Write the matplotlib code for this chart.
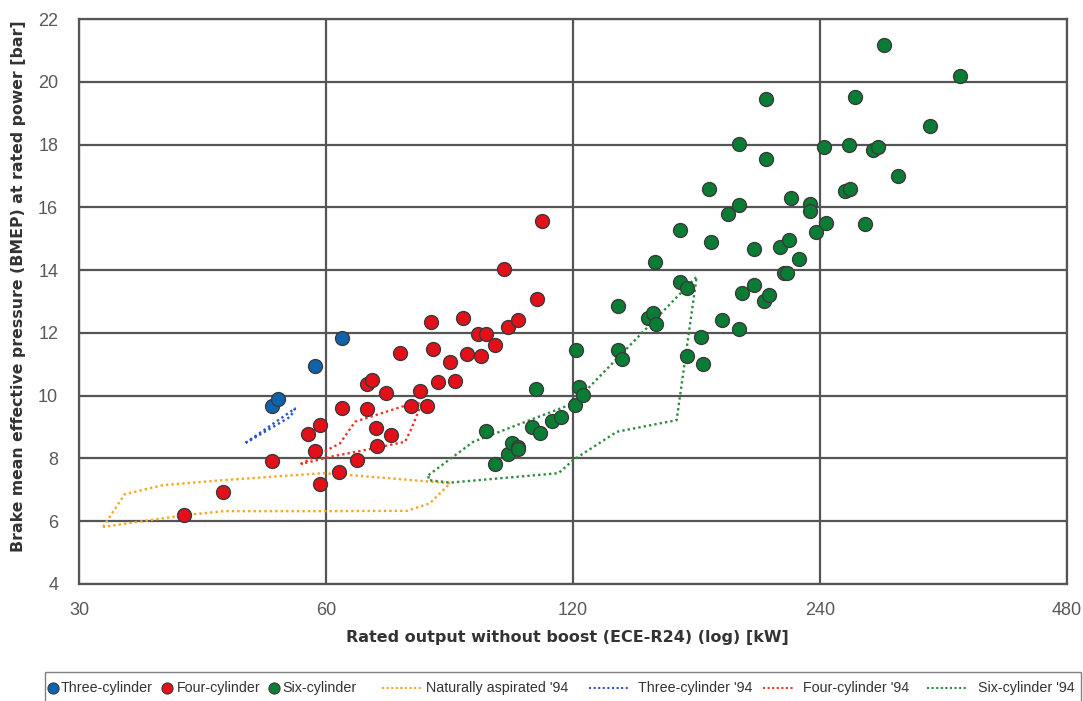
import numpy as np
import matplotlib
matplotlib.use('Agg')
from matplotlib import pyplot as plt
from matplotlib.lines import Line2D
from matplotlib.patches import Rectangle
from matplotlib.ticker import FixedLocator, NullLocator

# engine data: rated output [kW] vs BMEP at rated power [bar]
three_kw = [51.5, 52.5, 58.1, 62.8]
three_bmep = [9.68, 9.90, 10.95, 11.85]

four_kw = [40.3, 44.9, 51.5, 57.1, 58.1, 59.0, 59.0, 62.3, 62.8, 65.5,
           67.4, 67.4, 68.3, 69.1, 69.2, 71.1, 72.0, 73.9, 76.1, 78.1,
           79.6, 80.5, 81.1, 82.1, 85.0, 86.1, 88.1, 89.1, 92.0, 94.1,
           92.6, 96.3, 99.0, 100.0, 102.9, 108.4, 110.1]
four_bmep = [6.20, 6.92, 7.92, 8.77, 8.25, 9.05, 7.18, 7.58, 9.61, 7.96,
             9.56, 10.36, 10.49, 8.98, 8.40, 10.09, 8.75, 11.35, 9.67, 10.15,
             9.67, 12.35, 11.48, 10.43, 11.06, 10.46, 12.48, 11.32, 11.96, 11.96,
             11.26, 11.63, 14.02, 12.18, 12.41, 13.09, 15.57]

six_kw = [94.1, 96.4, 100.1, 101.2, 102.9, 102.9, 107.0, 108.1, 109.4, 113.1,
          116.0, 120.8, 121.1, 121.9, 123.4, 136.0, 136.0, 137.6, 148.1, 150.1,
          151.5, 150.9, 162.0, 162.0, 165.4, 165.3, 171.9, 173.0, 176.0, 177.0,
          182.3, 185.6, 191.2, 191.0, 191.0, 192.7, 199.3, 199.3, 205.1, 208.2,
          206.1, 206.4, 214.3, 219.8, 216.7, 219.0, 221.0, 226.1, 233.6, 233.6,
          237.3, 244.1, 242.9, 257.6, 261.1, 260.6, 265.0, 272.1, 278.3, 282.4,
          286.9, 299.0, 327.1, 355.2]
six_bmep = [8.89, 7.83, 8.13, 8.50, 8.37, 8.29, 9.01, 10.20, 8.80, 9.19,
            9.33, 9.70, 11.44, 10.28, 10.02, 12.85, 11.45, 11.16, 12.47, 12.64,
            12.28, 14.26, 15.28, 13.63, 13.42, 11.27, 11.88, 11.01, 16.60, 14.88,
            12.42, 15.80, 12.13, 18.01, 16.06, 13.28, 14.67, 13.54, 13.01, 13.20,
            19.44, 17.54, 14.75, 14.95, 13.90, 13.91, 16.29, 14.35, 16.12, 15.89,
            15.21, 15.50, 17.91, 16.52, 16.57, 17.98, 19.53, 15.46, 17.84, 17.91,
            21.16, 17.00, 18.59, 20.18]

# 1994 envelopes (closed outlines)
na94_kw = [32.1, 34.1, 38.0, 45.0, 59.5, 64.2, 85.0, 80.3, 75.3, 59.5, 45.0, 40.6, 32.1]
na94_bmep = [5.82, 6.86, 7.15, 7.31, 7.53, 7.47, 7.21, 6.57, 6.33, 6.32, 6.32, 6.20, 5.82]

three94_kw = [47.9, 55.0, 54.3, 48.3, 47.9]
three94_bmep = [8.50, 9.59, 9.33, 8.55, 8.50]

four94_kw = [55.9, 62.4, 65.1, 75.3, 78.5, 76.3, 74.9, 68.5, 60.7, 55.9]
four94_bmep = [7.82, 8.48, 9.17, 9.70, 9.77, 8.96, 8.53, 8.32, 8.05, 7.82]

six94_kw = [80.0, 90.7, 120.1, 169.8, 160.5, 135.7, 120.1, 115.2, 85.0, 80.0, 80.0]
six94_bmep = [7.47, 8.53, 9.75, 13.79, 9.22, 8.85, 7.95, 7.53, 7.23, 7.31, 7.47]

x_ticks = [30, 60, 120, 240, 480]
y_ticks = [4, 6, 8, 10, 12, 14, 16, 18, 20, 22]

labels = ['Three-cylinder', 'Four-cylinder', 'Six-cylinder', "Naturally aspirated '94",
          "Three-cylinder '94", "Four-cylinder '94", "Six-cylinder '94"]

c_blue = '#0b64ad'
c_red = '#e3101a'
c_green = '#0a7d34'
c_na = '#f6a623'
c_b94 = '#2a56c6'
c_r94 = '#ee3524'
c_g94 = '#2f8a3e'

plt.rcParams['font.family'] = ['Liberation Sans', 'DejaVu Sans']

W, H = 1083, 701
fig = plt.figure(figsize=(W / 100, H / 100), dpi=100)
ax = fig.add_axes([79/W, 1 - 584/H, (1067 - 79)/W, (584 - 19)/H])

ax.set_xscale('log', base=2)
ax.set_xlim(30, 480)
ax.set_ylim(4, 22)
ax.xaxis.set_major_locator(FixedLocator(x_ticks))
ax.xaxis.set_minor_locator(NullLocator())
ax.set_xticks(x_ticks)
ax.set_xticklabels([str(t) for t in x_ticks])
ax.set_yticks(y_ticks)
ax.grid(True, color='#555555', linewidth=1.6)
ax.set_axisbelow(True)
for s in ax.spines.values():
    s.set_color('#555555')
    s.set_linewidth(1.6)
ax.tick_params(length=0, labelsize=13, labelcolor='#595959')
ax.tick_params(axis='x', pad=13)
ax.tick_params(axis='y', pad=15)

ls_dot = (0, (1, 1.3))
ax.plot(na94_kw, na94_bmep, color=c_na, lw=1.7, ls=ls_dot, zorder=2)
ax.plot(three94_kw, three94_bmep, color=c_b94, lw=1.7, ls=ls_dot, zorder=2)
ax.plot(four94_kw, four94_bmep, color=c_r94, lw=1.7, ls=ls_dot, zorder=2)
ax.plot(six94_kw, six94_bmep, color=c_g94, lw=1.7, ls=ls_dot, zorder=2)

mk = dict(s=100, edgecolors='#3a3a3a', linewidths=1.0, zorder=3)
ax.scatter(three_kw, three_bmep, color=c_blue, **mk)
ax.scatter(four_kw, four_bmep, color=c_red, **mk)
ax.scatter(six_kw, six_bmep, color=c_green, **mk)

ax.set_xlabel('Rated output without boost (ECE-R24) (log) [kW]', fontsize=11.5,
              fontweight='bold', family='DejaVu Sans', color='#333333')
ax.set_ylabel('Brake mean effective pressure (BMEP) at rated power [bar]', fontsize=11.3,
              fontweight='bold', family='DejaVu Sans', color='#333333')
ax.xaxis.set_label_coords((567 - 79) / 988, (584 - 630) / 565)
ax.yaxis.set_label_coords((26 - 79) / 988, (584 - 286) / 565)

# legend strip below the chart (drawn by hand to match the original layout)
fig.patches.append(Rectangle((45/W, -0.02), (1081 - 45)/W, (701 - 672)/H + 0.02,
                             transform=fig.transFigure, fill=False,
                             edgecolor='#808080', lw=1.0))
ly = 1 - 688/H
marker_cols = [c_blue, c_red, c_green]
marker_x = [53, 167, 274]
text_x = [61, 177, 282, 426, 638, 803, 978]
line_cols = [c_na, c_b94, c_r94, c_g94]
line_x = [(382, 421), (589, 628), (763, 794), (927, 968)]
for col, mx in zip(marker_cols, marker_x):
    fig.lines.append(Line2D([mx/W], [ly], transform=fig.transFigure, ls='none',
                            marker='o', ms=8, mfc=col, mec='#3a3a3a', mew=0.8))
for col, (x0, x1) in zip(line_cols, line_x):
    fig.lines.append(Line2D([x0/W, x1/W], [ly, ly], transform=fig.transFigure,
                            color=col, lw=1.5, ls=(0, (1, 1.2))))
for lab, tx in zip(labels, text_x):
    fig.text(tx/W, ly, lab, ha='left', va='center', fontsize=10.3,
             color='#333333')

fig.savefig('out.png', dpi=100)
